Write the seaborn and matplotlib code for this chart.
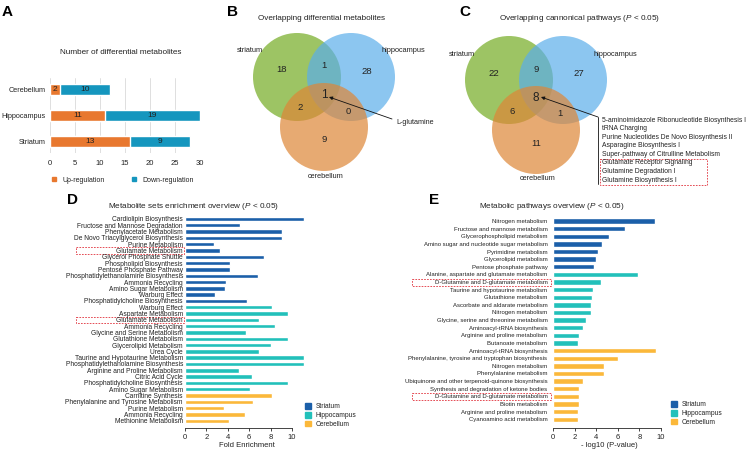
import pandas as pd
import seaborn as sns
import matplotlib.pyplot as plt
from matplotlib.patches import Circle, Rectangle, Patch
from matplotlib.lines import Line2D

# ---------------- data ----------------
# A: number of differential metabolites
regions = ['Cerebellum', 'Hippocampus', 'Striatum']
up_len = [2, 11, 16]
down_len = [10, 19, 12]
up_txt = ['2', '11', '13']
down_txt = ['10', '19', '9']

# B / C venn counts: S only, S&H, H only, all, S&C, H&C, C only
venn_sets = ['striatum', 'hippocampus', 'cerebellum']
venn_b = [18, 1, 28, 1, 2, 0, 9]
venn_c = [22, 9, 27, 8, 6, 1, 11]
b_note = 'L-glutamine'
c_pathways = ['5-aminoimidazole Ribonucleotide Biosynthesis I', 'tRNA Charging',
              'Purine Nucleotides De Novo Biosynthesis II', 'Asparagine Biosynthesis I',
              'Super-pathway of Citrulline Metabolism', 'Glutamate Receptor Signaling',
              'Glutamine Degradation I', 'Glutamine Biosynthesis I']

# D: metabolite set enrichment
d_striatum = ['Cardiolipin Biosynthesis', 'Fructose and Mannose Degradation',
              'Phenylacetate Metabolism', 'De Novo Triacylglycerol Biosynthesis',
              'Purine Metabolism', 'Glutamate Metabolism', 'Glycerol Phosphate Shuttle',
              'Phospholipid Biosynthesis', 'Pentose Phosphate Pathway',
              'Phosphatidylethanolamine Biosynthesis', 'Ammonia Recycling',
              'Amino Sugar Metabolism', 'Warburg Effect', 'Phosphatidylcholine Biosynthesis']
d_striatum_val = [11.1, 5.1, 9.1, 9.1, 2.7, 3.3, 7.4, 4.2, 4.2, 6.8, 3.85, 3.7, 2.8, 5.8]
d_hippo = ['Warburg Effect', 'Aspartate Metabolism', 'Glutamate Metabolism',
           'Ammonia Recycling', 'Glycine and Serine Metabolism', 'Glutathione Metabolism',
           'Glycerolipid Metabolism', 'Urea Cycle', 'Taurine and Hypotaurine Metabolism',
           'Phosphatidylethanolamine Biosynthesis', 'Arginine and Proline Metabolism',
           'Citric Acid Cycle', 'Phosphatidylcholine Biosynthesis', 'Amino Sugar Metabolism']
d_hippo_val = [8.1, 9.6, 6.9, 8.4, 5.7, 9.6, 8.0, 6.9, 11.1, 11.1, 5.0, 6.3, 9.6, 6.1]
d_cereb = ['Carnitine Synthesis', 'Phenylalanine and Tyrosine Metabolism',
           'Purine Metabolism', 'Ammonia Recycling', 'Methionine Metabolism']
d_cereb_val = [8.1, 6.4, 3.6, 5.6, 4.1]
d_boxed = [5, 16]

# E: metabolic pathways
e_striatum = ['Nitrogen metabolism', 'Fructose and mannose metabolism',
              'Glycerophospholipid metabolism', 'Amino sugar and nucleotide sugar metabolism',
              'Pyrimidine metabolism', 'Glycerolipid metabolism', 'Pentose phosphate pathway']
e_striatum_val = [9.4, 6.7, 5.2, 4.5, 4.2, 3.95, 3.8]
e_hippo = ['Alanine, aspartate and glutamate metabolism',
           'D-Glutamine and D-glutamate metabolism', 'Taurine and hypotaurine metabolism',
           'Glutathione metabolism', 'Ascorbate and aldarate metabolism', 'Nitrogen metabolism',
           'Glycine, serine and threonine metabolism', 'Aminoacyl-tRNA biosynthesis',
           'Arginine and proline metabolism', 'Butanoate metabolism']
e_hippo_val = [7.85, 4.4, 3.7, 3.6, 3.5, 3.5, 3.1, 2.75, 2.45, 2.35]
e_cereb = ['Aminoacyl-tRNA biosynthesis', 'Phenylalanine, tyrosine and tryptophan biosynthesis',
           'Nitrogen metabolism', 'Phenylalanine metabolism',
           'Ubiquinone and other terpenoid-quinone biosynthesis',
           'Synthesis and degradation of ketone bodies',
           'D-Glutamine and D-glutamate metabolism', 'Biotin metabolism',
           'Arginine and proline metabolism', 'Cyanoamino acid metabolism']
e_cereb_val = [9.5, 6.05, 4.7, 4.7, 2.8, 2.45, 2.45, 2.4, 2.35, 2.3]
e_boxed = [8, 23]

groups = ['Striatum', 'Hippocampus', 'Cerebellum']
group_cols = ['#1B5FA9', '#22C0BA', '#FBB83A']
A_UP, A_DOWN = '#E8782F', '#1596BE'
venn_cols = ['#74AB22', '#5BAEEA', '#DE8637']

# ---------------- style ----------------
sns.set_style('white')
plt.rcParams['font.family'] = ['Liberation Sans', 'DejaVu Sans']
plt.rcParams['mathtext.fontset'] = 'custom'
plt.rcParams['mathtext.rm'] = 'Liberation Sans'
plt.rcParams['mathtext.it'] = 'Liberation Sans:italic'
TXT = '#222222'

fig = plt.figure(figsize=(7.53, 4.5), dpi=100)
W, H = 753, 450


def box(l, t, r, b):
    return fig.add_axes([l / W, 1 - b / H, (r - l) / W, (b - t) / H])


def ftext(x, y, s, **kw):
    kw.setdefault('ha', 'center')
    kw.setdefault('va', 'center')
    kw.setdefault('color', TXT)
    fig.text(x / W, 1 - y / H, s, **kw)


# ---------------- A ----------------
axA = box(50, 78, 200, 153)
total = [u + d for u, d in zip(up_len, down_len)]
sns.barplot(x=total, y=regions, color=A_DOWN, width=0.42, orient='h', saturation=1, ax=axA)
sns.barplot(x=up_len, y=regions, color=A_UP, width=0.42, orient='h', saturation=1, ax=axA)
for i in range(len(regions)):
    axA.text(up_len[i] / 2, i, up_txt[i], ha='center', va='center', fontsize=6, color=TXT)
    axA.text(up_len[i] + down_len[i] / 2, i, down_txt[i], ha='center', va='center',
             fontsize=6, color=TXT)
axA.set_xlim(0, 30)
axA.set_ylim(2.45, -0.45)
axA.set_xticks(range(0, 31, 5))
axA.set_axisbelow(True)
axA.grid(axis='x', color='#d9d9d9', lw=0.6)
axA.grid(axis='y', visible=False)
sns.despine(ax=axA, left=True, bottom=True)
axA.tick_params(length=0, labelsize=5.5, labelcolor=TXT)
axA.tick_params(axis='x', pad=5)
axA.tick_params(axis='y', pad=3, labelsize=5.2)
axA.set_xlabel('')
axA.set_ylabel('')
ftext(121, 52, 'Number of differential metabolites', fontsize=5.9)
legA = [Line2D([], [], marker='s', ls='', color=A_UP, markersize=2.8),
        Line2D([], [], marker='s', ls='', color=A_DOWN, markersize=2.8)]
fig.legend(legA, ['Up-regulation', 'Down-regulation'], loc='center left',
           bbox_to_anchor=(47 / W, 1 - 180 / H), ncol=2, frameon=False, fontsize=5,
           handlelength=1.0, handletextpad=0.8, columnspacing=3.6, borderpad=0,
           labelcolor=TXT)

# ---------------- overlay for venns and annotations ----------------
ov = fig.add_axes([0, 0, 1, 1])
ov.set_xlim(0, W)
ov.set_ylim(H, 0)
ov.axis('off')

R = 44
circle_off = [(-27, -17), (27, -17), (0, 33)]
count_off = [(-42, -24), (0, -28), (43, -23), (0, 1), (-24, 14), (24, 17), (0, 46)]
set_off = [(-74, -43), (79, -43), (2, 82)]


def venn(cx, cy, counts):
    for (dx, dy), c in zip(circle_off, venn_cols):
        ov.add_patch(Circle((cx + dx, cy + dy), R, color=c, alpha=0.7, lw=0))
    for k, ((dx, dy), n) in enumerate(zip(count_off, counts)):
        ov.text(cx + dx, cy + dy, str(n), ha='center', va='center',
                fontsize=8.5 if k == 3 else 6.8, color=TXT)
    for (dx, dy), s in zip(set_off, venn_sets):
        ov.text(cx + dx, cy + dy, s, ha='center', va='center', fontsize=5.3, color=TXT)


venn(324, 94, venn_b)
venn(536, 97, venn_c)
ftext(322, 19, 'Overlapping differential metabolites', fontsize=5.9)
ftext(580, 18, 'Overlapping cannonical pathways ($\\mathit{P}$ < 0.05)', fontsize=5.9)

# B arrow to L-glutamine
ov.annotate('', xy=(329, 97), xytext=(392, 119),
            arrowprops=dict(arrowstyle='-|>', lw=0.6, color='#111', mutation_scale=5,
                            shrinkA=0, shrinkB=0))
ov.text(396, 123, b_note, ha='left', va='center', fontsize=5.2, color=TXT)

# C arrow and pathway list
ov.annotate('', xy=(541, 97), xytext=(598, 117),
            arrowprops=dict(arrowstyle='-|>', lw=0.6, color='#111', mutation_scale=5,
                            shrinkA=0, shrinkB=0))
ov.plot([598, 598], [117, 184], color='#111', lw=0.6)
line_y = [120 + 8.6 * i for i in range(len(c_pathways))]
for y, s in zip(line_y, c_pathways):
    ov.text(602, y, s, ha='left', va='center', fontsize=4.9, color=TXT)
ov.add_patch(Rectangle((600, line_y[5] - 4.5), 107, line_y[7] - line_y[5] + 9, fill=False,
                       ec='#E0303A', lw=0.6, ls=(0, (2, 1.5))))

# panel letters
for x, y, s in [(7, 12, 'A'), (233, 12, 'B'), (465, 12, 'C'), (72, 200, 'D'), (434, 200, 'E')]:
    ftext(x, y, s, fontsize=11, fontweight='bold', color='black')


# ---------------- D / E helper ----------------
def enrich(ax, names, vals, xmax, label_size, pad):
    df = pd.DataFrame({
        'row': [f'{i:02d}' for i in range(sum(len(n) for n in names))],
        'value': [v for vs in vals for v in vs],
        'group': [g for g, n in zip(groups, names) for _ in n],
    })
    sns.barplot(data=df, x='value', y='row', hue='group', hue_order=groups,
                palette=group_cols, dodge=False, orient='h', width=0.7, saturation=1,
                legend=False, ax=ax)
    n = len(df)
    ax.set_yticks(range(n))
    ax.set_yticklabels([s for ns in names for s in ns])
    ax.set_xlim(0, xmax)
    ax.set_ylim(n - 1 + 1.15, -0.5)
    ax.set_xticks(range(0, 11, 2))
    sns.despine(ax=ax, left=True)
    ax.spines['bottom'].set_bounds(0, 10)
    ax.spines['bottom'].set_linewidth(0.6)
    ax.tick_params(axis='y', length=0, pad=pad, labelsize=label_size, labelcolor=TXT)
    ax.tick_params(axis='x', length=2.5, width=0.6, pad=1.5, labelsize=5.5,
                   labelcolor=TXT, bottom=True)
    ax.set_ylabel('')
    leg = [Patch(color=c, label=g) for g, c in zip(groups, group_cols)]
    return ax, leg


def red_box(ax, row, x0, x1, h):
    y = H - ax.transData.transform((0, row))[1]
    ov.add_patch(Rectangle((x0, y - h / 2), x1 - x0, h, fill=False, ec='#E0303A',
                           lw=0.6, ls=(0, (2, 1.5))))


# ---------------- D ----------------
axD = box(185, 215.8, 185 + 11.6 * 10.7, 428)
axD, legD = enrich(axD, [d_striatum, d_hippo, d_cereb],
                   [d_striatum_val, d_hippo_val, d_cereb_val], 11.6, 4.8, 1.5)
axD.set_xlabel('Fold Enrichment', fontsize=5.5, color=TXT, labelpad=1)
ftext(194, 207, 'Metabolite sets enrichment overview ($\\mathit{P}$ < 0.05)', fontsize=5.9)
fig.legend(handles=legD, loc='upper left', bbox_to_anchor=(302 / W, 1 - 400 / H),
           frameon=False, fontsize=4.8, handlelength=0.9, handleheight=0.9,
           labelspacing=0.25, handletextpad=0.6, borderpad=0, labelcolor=TXT)

# ---------------- E ----------------
axE = box(553, 217.2, 553 + 10.4 * 10.8, 428)
axE, legE = enrich(axE, [e_striatum, e_hippo, e_cereb],
                   [e_striatum_val, e_hippo_val, e_cereb_val], 10.4, 4.3, 4)
axE.set_xlabel('- log10 (P-value)', fontsize=5.5, color=TXT, labelpad=1)
ftext(552, 207, 'Metabolic pathways overview ($\\mathit{P}$ < 0.05)', fontsize=5.9)
fig.legend(handles=legE, loc='upper left', bbox_to_anchor=(668 / W, 1 - 398 / H),
           frameon=False, fontsize=4.8, handlelength=0.9, handleheight=0.9,
           labelspacing=0.25, handletextpad=0.6, borderpad=0, labelcolor=TXT)

for r in d_boxed:
    red_box(axD, r, 76, 184, 6.5)
for r in e_boxed:
    red_box(axE, r, 412, 551, 7)

fig.savefig('out.png', dpi=100)
